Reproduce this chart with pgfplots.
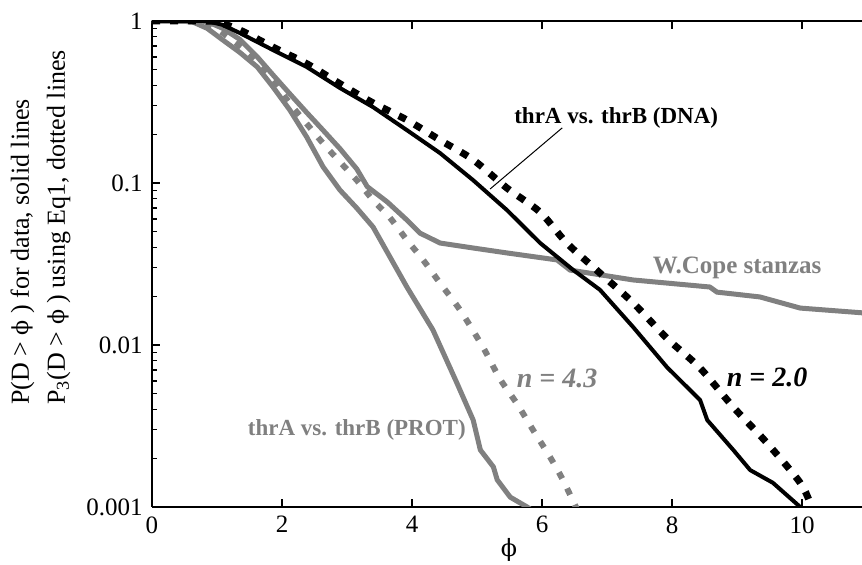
\documentclass[border=0pt]{standalone}
\usepackage{pgfplots}
\pgfplotsset{compat=1.18}
\usepackage{fontspec}
\setmainfont{Liberation Serif}
\newfontfamily\phifont{DejaVu Serif}
\newcommand{\ph}{{\phifont\fontsize{0.85em}{1em}\selectfont ϕ}}
\definecolor{grayc}{RGB}{128,128,128}

\begin{document}
\begin{tikzpicture}
\begin{axis}[
  scale only axis, width=355pt, height=243pt,
  at={(0pt,0pt)}, anchor=south west,
  ymode=log, xmin=0, xmax=10.92, ymin=0.001, ymax=1,
  axis y line*=left,
  tick align=inside,
  xtick={0,2,4,6,8,10}, xticklabels={0,2,4,6,8,10},
  ytick={0.001,0.01,0.1,1}, yticklabels={0.001,0.01,0.1,1},
  minor ytick={0.002,0.003,0.004,0.005,0.006,0.007,0.008,0.009,0.02,0.03,0.04,0.05,0.06,0.07,0.08,0.09,0.2,0.3,0.4,0.5,0.6,0.7,0.8,0.9},
  major tick length=4pt, minor tick length=2.5pt,
  tick style={black, line width=0.7pt},
  axis line style={line width=1pt},
  tick label style={font=\fontsize{12.5}{14}\selectfont, inner sep=0pt},
  yticklabel style={xshift=-4.5pt},
  xticklabel style={yshift=-4.5pt},
  no markers,
]
\addplot[grayc, line width=3pt, dash pattern=on 3.5pt off 5.5pt, smooth] table {
0 1
0.7 1
0.9 0.95
1.09 0.843
1.35 0.70
1.62 0.56
1.86 0.43
2.12 0.31
2.38 0.232
2.63 0.176
2.89 0.135
3.15 0.104
3.40 0.0785
3.66 0.0610
3.92 0.0445
4.17 0.0335
4.43 0.0241
4.74 0.0164
5.09 0.0097
5.35 0.00620
5.62 0.00430
5.86 0.00299
6.12 0.00204
6.32 0.00147
6.52 0.001
6.60 0.00088
};
\addplot[grayc, line width=2.5pt] table {
0 1
0.50 0.995
0.63 0.985
0.85 0.90
1.09 0.763
1.35 0.64
1.62 0.52
1.86 0.392
2.12 0.282
2.38 0.192
2.63 0.126
2.89 0.0905
3.15 0.070
3.40 0.0535
3.92 0.0228
4.32 0.0124
4.69 0.00582
4.94 0.00344
5.05 0.00225
5.25 0.00177
5.31 0.00147
5.51 0.00115
5.77 0.001
5.85 0.00095
};
\addplot[grayc, line width=2.5pt] table {
0 1
0.74 1
0.85 0.99
1.09 0.90
1.35 0.77
1.62 0.60
1.86 0.465
2.12 0.355
2.38 0.272
2.63 0.212
2.89 0.163
3.15 0.122
3.31 0.0950
3.62 0.0763
3.92 0.0591
4.12 0.0491
4.43 0.0426
4.94 0.0397
5.46 0.0370
6.23 0.0335
6.43 0.0290
7.40 0.0252
8.58 0.0228
8.69 0.0212
9.35 0.0198
9.97 0.0169
10.92 0.0158
};
\addplot[black, line width=3.5pt, dash pattern=on 4pt off 5pt, smooth] table {
0 1
0.8 1
1.0 0.985
1.35 0.88
1.86 0.69
2.38 0.545
2.89 0.41
3.40 0.312
3.92 0.245
4.43 0.184
4.94 0.139
5.46 0.093
5.97 0.066
6.38 0.0426
6.89 0.0278
7.40 0.0182
7.92 0.0110
8.43 0.0072
8.94 0.00414
9.46 0.00248
9.97 0.00141
10.15 0.001
10.25 0.00085
};
\addplot[black, line width=2pt] table {
0 1
0.85 1
1.09 0.945
1.35 0.843
1.86 0.662
2.38 0.520
2.89 0.386
3.40 0.294
3.92 0.212
4.43 0.153
4.94 0.104
5.46 0.068
5.97 0.0426
6.48 0.029
6.89 0.0219
7.40 0.0129
7.92 0.0073
8.43 0.00457
8.54 0.00344
8.94 0.00225
9.20 0.00169
9.55 0.00141
9.97 0.001
10.05 0.00095
};
\draw[line width=0.5pt] (axis cs:6.31,0.219) -- (axis cs:5.2,0.0918);
\node[font=\bfseries\fontsize{11.5}{13}\selectfont] at (axis cs:7.14,0.252) {thrA vs. thrB (DNA)};
\node[grayc, font=\bfseries\fontsize{12.5}{14}\selectfont] at (axis cs:9.0,0.0299) {W.Cope stanzas};
\node[grayc, font=\bfseries\itshape\fontsize{14}{16}\selectfont] at (axis cs:6.23,0.00625) {n = 4.3};
\node[black, font=\bfseries\itshape\fontsize{14}{16}\selectfont] at (axis cs:9.46,0.00634) {n = 2.0};
\node[grayc, font=\bfseries\fontsize{11.5}{13}\selectfont] at (axis cs:3.15,0.00299) {thrA vs. thrB (PROT)};
\end{axis}
\node[font=\fontsize{13}{18}\selectfont, rotate=90, align=left, inner sep=0pt, anchor=south west] at (-40.5pt,51pt) {P(D > \ph\ ) for data, solid lines\\P\textsubscript{3}(D > \ph\ ) using Eq1, dotted lines};
\node[font=\fontsize{14}{16}\selectfont] at (178.5pt,-21.5pt) {\ph};
\pgfresetboundingbox
\useasboundingbox (-76pt,-29pt) rectangle (355pt,253.5pt);
\end{tikzpicture}
\end{document}
